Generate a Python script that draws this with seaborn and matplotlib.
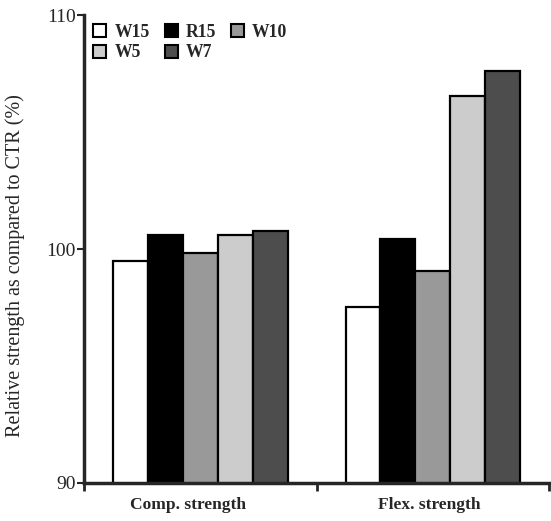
import matplotlib
matplotlib.use("Agg")
import matplotlib.pyplot as plt
import seaborn as sns
import pandas as pd
from matplotlib.patches import Patch
from matplotlib.ticker import FixedLocator

# values
tests = ["Comp. strength", "Flex. strength"]
mixes = ["W15", "R15", "W10", "W5", "W7"]
comp_vals = [99.5, 100.59, 99.82, 100.58, 100.76]
flex_vals = [97.53, 100.44, 99.07, 106.56, 107.59]
colors = ["#ffffff", "#000000", "#999999", "#cccccc", "#4d4d4d"]

df = pd.DataFrame({
    "test": [tests[0]] * len(mixes) + [tests[1]] * len(mixes),
    "mix": mixes + mixes,
    "value": comp_vals + flex_vals,
})

sns.set_style("ticks")
plt.rcParams["font.family"] = ["Liberation Serif", "DejaVu Serif"]

fig = plt.figure(figsize=(5.51, 5.21), dpi=100)
ax = fig.add_axes([0.153, 0.073, 0.843, 0.898])

sns.barplot(data=df, x="test", y="value", hue="mix", hue_order=mixes,
            palette=dict(zip(mixes, colors)), width=0.75,
            edgecolor="black", linewidth=1.6, ax=ax, legend=False)

ax.set_ylim(90, 110)
ax.set_xlim(-0.5, 1.5)
ax.set_yticks([90, 100, 110])
ax.tick_params(axis="y", labelsize=14, length=5, width=1.5, pad=1)
# category labels sit a bit left of the group centres in the original
ax.set_xticks([-0.055, 0.985], tests)
ax.xaxis.set_minor_locator(FixedLocator([-0.5, 0.5, 1.5]))
ax.tick_params(axis="x", which="major", length=0, labelsize=12.5, pad=10)
ax.tick_params(axis="x", which="minor", length=6, width=2)
for lab in ax.get_xticklabels():
    lab.set_fontweight("bold")

sns.despine(ax=ax)
ax.spines["left"].set_linewidth(2.5)
ax.spines["bottom"].set_linewidth(2.5)

ax.set_xlabel("")
ax.set_ylabel("Relative strength as compared to CTR (%)", fontsize=14.5)
ax.yaxis.set_label_coords(-0.128, 0.464)

# legend: 3 columns, filled column-wise
order = [0, 3, 1, 4, 2]
handles = [Patch(facecolor=colors[i], edgecolor="black", linewidth=1.5) for i in order]
labels = [mixes[i] for i in order]
leg = ax.legend(handles, labels, ncol=3, loc="upper left", bbox_to_anchor=(0.0, 1.0),
                frameon=False, prop={"weight": "bold", "size": 12.7},
                handlelength=0.75, handleheight=0.75, handletextpad=0.45,
                columnspacing=0.85, labelspacing=0.2, borderaxespad=0.1)

fig.savefig("out.png", dpi=100)
